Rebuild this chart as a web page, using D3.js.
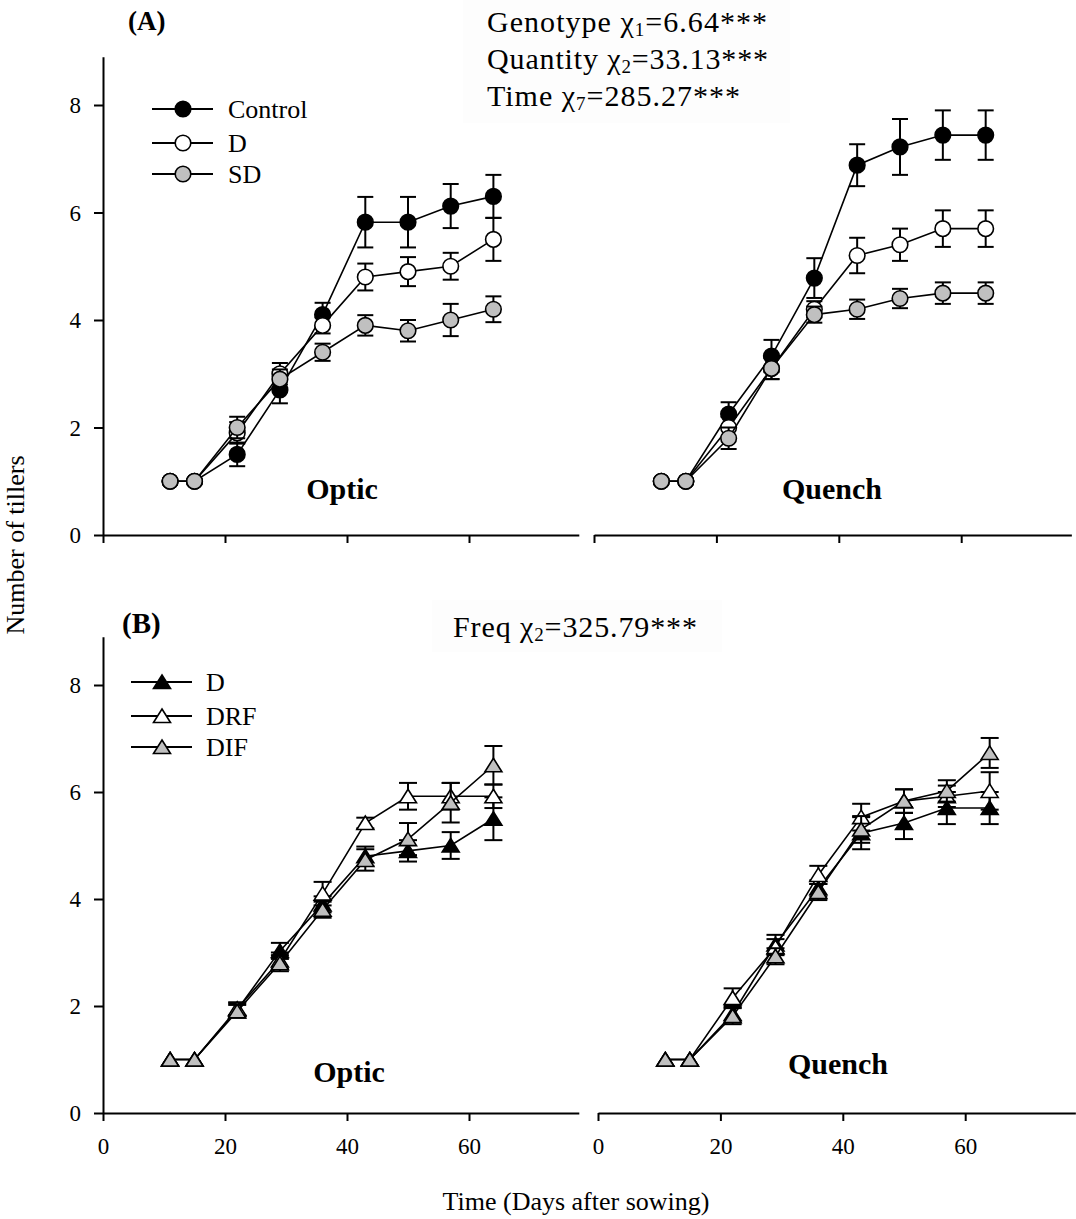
<!DOCTYPE html>
<html><head><meta charset="utf-8">
<script src="https://cdn.jsdelivr.net/npm/d3@7"></script>
<style>
body{margin:0;background:#fff}
svg{display:block}
text{font-family:"Liberation Serif","Times New Roman",serif;fill:#000}
</style>
</head><body>
<svg id="c" width="1076" height="1219"></svg>
<script>
// ---------- DATA ----------
const days = [11, 15, 22, 29, 36, 43, 50, 57, 64];
const xTicks = [0, 20, 40, 60];
const yTicks = [0, 2, 4, 6, 8];

// Panel A – Optic
const opticA_control    = [1, 1, 1.5, 2.7, 4.1, 5.82, 5.82, 6.12, 6.3];
const opticA_controlErr = [0, 0, 0.22, 0.25, 0.22, 0.47, 0.47, 0.41, 0.4];
const opticA_D          = [1, 1, 1.9, 3.0, 3.9, 4.8, 4.9, 5.0, 5.5];
const opticA_DErr       = [0, 0, 0.2, 0.2, 0.15, 0.25, 0.27, 0.25, 0.4];
const opticA_SD         = [1, 1, 2.0, 2.9, 3.4, 3.9, 3.8, 4.0, 4.2];
const opticA_SDErr      = [0, 0, 0.2, 0.18, 0.16, 0.19, 0.2, 0.3, 0.24];

// Panel A – Quench
const quenchA_control    = [1, 1, 2.25, 3.33, 4.78, 6.88, 7.22, 7.44, 7.44];
const quenchA_controlErr = [0, 0, 0.22, 0.3, 0.37, 0.39, 0.52, 0.46, 0.46];
const quenchA_D          = [1, 1, 2.0, 3.1, 4.2, 5.2, 5.4, 5.7, 5.7];
const quenchA_DErr       = [0, 0, 0.2, 0.2, 0.15, 0.33, 0.3, 0.34, 0.34];
const quenchA_SD         = [1, 1, 1.8, 3.1, 4.1, 4.2, 4.4, 4.5, 4.5];
const quenchA_SDErr      = [0, 0, 0.2, 0.2, 0.15, 0.18, 0.18, 0.2, 0.2];

// Panel B – Optic
const opticB_D      = [1, 1, 1.93, 3.03, 3.9, 4.8, 4.9, 5.0, 5.5];
const opticB_DErr   = [0, 0, 0.12, 0.15, 0.15, 0.18, 0.2, 0.25, 0.4];
const opticB_DRF    = [1, 1, 1.95, 2.85, 4.1, 5.42, 5.92, 5.92, 5.92];
const opticB_DRFErr = [0, 0, 0.12, 0.15, 0.22, 0.1, 0.25, 0.25, 0.22];
const opticB_DIF    = [1, 1, 1.9, 2.8, 3.8, 4.73, 5.12, 5.8, 6.5];
const opticB_DIFErr = [0, 0, 0.12, 0.15, 0.15, 0.2, 0.3, 0.37, 0.36];

// Panel B – Quench
const quenchB_D      = [1, 1, 1.85, 3.15, 4.2, 5.23, 5.42, 5.7, 5.7];
const quenchB_DErr   = [0, 0, 0.15, 0.18, 0.15, 0.3, 0.3, 0.3, 0.3];
const quenchB_DRF    = [1, 1, 2.15, 3.1, 4.45, 5.53, 5.83, 5.92, 6.02];
const quenchB_DRFErr = [0, 0, 0.18, 0.15, 0.17, 0.25, 0.22, 0.2, 0.35];
const quenchB_DIF    = [1, 1, 1.81, 2.93, 4.13, 5.3, 5.83, 6.02, 6.73];
const quenchB_DIFErr = [0, 0, 0.15, 0.15, 0.15, 0.25, 0.22, 0.2, 0.28];

const legendA = ["Control", "D", "SD"];
const legendB = ["D", "DRF", "DIF"];
const fillsABC = ["#000000", "#ffffff", "#c0c0c0"];

// ---------- LAYOUT ----------
const svg = d3.select("#c");
const X_MAX = 78, Y_MAX = 8.9;

function panel(cfg) {
  const x = d3.scaleLinear().domain([0, X_MAX]).range([cfg.x0, cfg.x1]);
  const y = d3.scaleLinear().domain([0, Y_MAX]).range([cfg.y0, cfg.yTop]);
  const g = svg.append("g");
  const xa = g.append("g").attr("transform", `translate(0,${cfg.y0})`)
    .call(d3.axisBottom(x).tickValues(xTicks).tickSize(8).tickSizeOuter(0)
      .tickFormat(cfg.xLabels ? d3.format("d") : ""));
  xa.select(".domain").attr("stroke-width", 2).attr("stroke", "#000");
  xa.selectAll(".tick line").attr("stroke-width", 2).attr("stroke", "#000");
  xa.selectAll(".tick text").attr("font-size", 23).attr("dy", 0).attr("y", 41)
    .style("font-family", '"Liberation Serif",serif').attr("fill", "#000");
  if (cfg.yAxis) {
    const ya = g.append("g").attr("transform", `translate(${cfg.x0},0)`)
      .call(d3.axisLeft(y).tickValues(yTicks).tickSize(9).tickSizeOuter(0).tickFormat(d3.format("d")));
    ya.select(".domain").attr("stroke-width", 2).attr("stroke", "#000");
    ya.selectAll(".tick line").attr("stroke-width", 2).attr("stroke", "#000");
    ya.selectAll(".tick text").attr("font-size", 23).attr("x", -22).attr("dy", "0.33em")
      .style("font-family", '"Liberation Serif",serif').attr("fill", "#000");
  }
  cfg.series.forEach((s, i) => {
    const pts = days.map((d, k) => ({ d, v: s.v[k], e: s.e[k] }));
    g.append("path").datum(pts)
      .attr("d", d3.line().x(p => x(p.d)).y(p => y(p.v)))
      .attr("fill", "none").attr("stroke", "#000").attr("stroke-width", 1.6);
    const eb = g.append("g").attr("stroke", "#000").attr("stroke-width", 2);
    pts.filter(p => p.e > 0).forEach(p => {
      const cx = x(p.d), hw = cfg.cap / 2;
      eb.append("line").attr("x1", cx).attr("x2", cx).attr("y1", y(p.v - p.e)).attr("y2", y(p.v + p.e));
      eb.append("line").attr("x1", cx - hw).attr("x2", cx + hw).attr("y1", y(p.v + p.e)).attr("y2", y(p.v + p.e));
      eb.append("line").attr("x1", cx - hw).attr("x2", cx + hw).attr("y1", y(p.v - p.e)).attr("y2", y(p.v - p.e));
    });
    const mk = g.append("g");
    pts.forEach(p => marker(mk, cfg.shape, x(p.d), y(p.v), fillsABC[i]));
  });
  g.append("text").attr("x", cfg.labX).attr("y", cfg.labY).attr("text-anchor", "middle")
    .attr("font-size", 30).attr("font-weight", "bold").text(cfg.label);
}

function marker(g, shape, cx, cy, fill) {
  if (shape === "circle") {
    g.append("circle").attr("cx", cx).attr("cy", cy).attr("r", 7.8)
      .attr("fill", fill).attr("stroke", "#000").attr("stroke-width", 1.6);
  } else {
    g.append("path").attr("d", `M${cx},${cy - 7}L${cx + 8.5},${cy + 6.5}L${cx - 8.5},${cy + 6.5}Z`)
      .attr("fill", fill).attr("stroke", "#000").attr("stroke-width", 1.6);
  }
}

// faint stats boxes
svg.append("rect").attr("x", 463).attr("y", 0).attr("width", 327).attr("height", 123).attr("fill", "#fdfdfd");
svg.append("rect").attr("x", 432).attr("y", 600).attr("width", 290).attr("height", 52).attr("fill", "#fdfdfd");

panel({ x0: 103, x1: 103 + X_MAX * 6.1, y0: 535, yTop: 535 - Y_MAX * 53.75, yAxis: true, xLabels: false,
  shape: "circle", cap: 16, label: "Optic", labX: 342, labY: 499,
  series: [{ v: opticA_control, e: opticA_controlErr }, { v: opticA_D, e: opticA_DErr }, { v: opticA_SD, e: opticA_SDErr }] });
panel({ x0: 594, x1: 594 + X_MAX * 6.12, y0: 535, yTop: 535 - Y_MAX * 53.75, yAxis: false, xLabels: false,
  shape: "circle", cap: 16, label: "Quench", labX: 832, labY: 499,
  series: [{ v: quenchA_control, e: quenchA_controlErr }, { v: quenchA_D, e: quenchA_DErr }, { v: quenchA_SD, e: quenchA_SDErr }] });
panel({ x0: 103, x1: 103 + X_MAX * 6.1, y0: 1113, yTop: 1113 - Y_MAX * 53.5, yAxis: true, xLabels: true,
  shape: "triangle", cap: 18, label: "Optic", labX: 349, labY: 1082,
  series: [{ v: opticB_D, e: opticB_DErr }, { v: opticB_DRF, e: opticB_DRFErr }, { v: opticB_DIF, e: opticB_DIFErr }] });
panel({ x0: 598, x1: 598 + X_MAX * 6.12, y0: 1113, yTop: 1113 - Y_MAX * 53.5, yAxis: false, xLabels: true,
  shape: "triangle", cap: 18, label: "Quench", labX: 838, labY: 1074,
  series: [{ v: quenchB_D, e: quenchB_DErr }, { v: quenchB_DRF, e: quenchB_DRFErr }, { v: quenchB_DIF, e: quenchB_DIFErr }] });

// legends
function legend(names, shape, lx0, lx1, mx, tx, rows) {
  names.forEach((n, i) => {
    const yy = rows[i];
    svg.append("line").attr("x1", lx0).attr("x2", lx1).attr("y1", yy).attr("y2", yy)
      .attr("stroke", "#000").attr("stroke-width", 1.8);
    marker(svg, shape, mx, yy, fillsABC[i]);
    svg.append("text").attr("x", tx).attr("y", yy + 9).attr("font-size", 26).text(n);
  });
}
legend(legendA, "circle", 152, 213, 183, 228, [109, 143, 174]);
legend(legendB, "triangle", 131, 192, 162, 206, [682, 716, 747]);

// panel letters
svg.append("text").attr("x", 128).attr("y", 30).attr("font-size", 27).attr("font-weight", "bold").text("(A)");
svg.append("text").attr("x", 122).attr("y", 633).attr("font-size", 29).attr("font-weight", "bold").text("(B)");

// stats text
function stat(x, y, pre, sub, post, len) {
  const t = svg.append("text").attr("x", x).attr("y", y).attr("font-size", 30)
    .attr("textLength", len).attr("lengthAdjust", "spacing");
  t.append("tspan").text(pre);
  t.append("tspan").attr("font-size", 19).attr("dy", 4).text(sub);
  t.append("tspan").attr("dy", -4).text(post);
}
stat(487, 32, "Genotype χ", "1", "=6.64***", 280);
stat(487, 69, "Quantity χ", "2", "=33.13***", 281);
stat(487, 106, "Time χ", "7", "=285.27***", 253);
stat(453, 637, "Freq χ", "2", "=325.79***", 244);

// axis titles
svg.append("text").attr("transform", "translate(24,545) rotate(-90)").attr("text-anchor", "middle")
  .attr("font-size", 26).text("Number of tillers");
svg.append("text").attr("x", 576).attr("y", 1210).attr("text-anchor", "middle")
  .attr("font-size", 26).text("Time (Days after sowing)");
</script>
</body></html>
